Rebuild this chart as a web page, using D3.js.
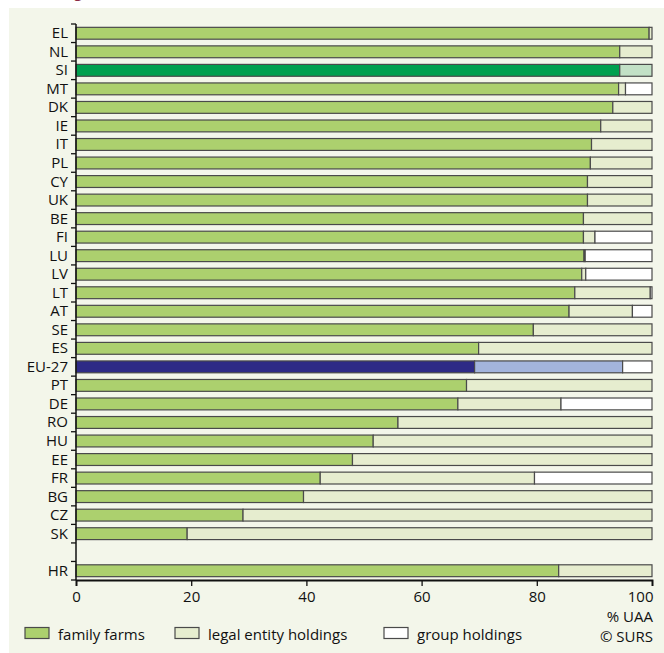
<!DOCTYPE html>
<html>
<head>
<meta charset="utf-8">
<script src="https://cdn.jsdelivr.net/npm/d3@7/dist/d3.min.js"></script>
<style>
  html, body { margin: 0; padding: 0; background: #ffffff; }
  svg { display: block; }
  text { font-family: "Open Sans", "Noto Sans", sans-serif; }
</style>
</head>
<body>
<svg id="chart" width="664" height="653"></svg>
<script>
// ---- data ----
const countries = ["EL","NL","SI","MT","DK","IE","IT","PL","CY","UK","BE","FI","LU","LV","LT","AT","SE","ES","EU-27","PT","DE","RO","HU","EE","FR","BG","CZ","SK","","HR"];
const familyFarms = [99.5,94.4,94.4,94.2,93.2,91.1,89.5,89.3,88.8,88.8,88.1,88.1,88.2,87.8,86.6,85.6,79.4,69.9,69.2,67.8,66.3,55.9,51.6,48.0,42.4,39.5,29.0,19.3,null,83.8];
const legalEntity = [0.5,5.6,5.6,1.2,6.8,8.9,10.5,10.7,11.2,11.2,11.9,2.0,0.2,0.7,13.1,11.0,20.6,30.1,25.7,32.2,17.9,44.1,48.4,52.0,37.2,60.5,71.0,80.7,null,16.2];
const groupHoldings = [0,0,0,4.6,0,0,0,0,0,0,0,9.9,11.6,11.5,0.3,3.4,0,0,5.1,0,15.8,0,0,0,20.4,0,0,0,null,0];
const xTicks = [0,20,40,60,80,100];
const seriesNames = ["family farms","legal entity holdings","group holdings"];

const colors = {
  default: ["#acd06e","#e6edcf","#ffffff"],
  "SI": ["#00a04f","#c2e1c6","#ffffff"],
  "EU-27": ["#2e2a86","#a3b4dc","#ffffff"]
};

const FS = 15;
const svg = d3.select("#chart");
// background panel
svg.append("rect").attr("x",9).attr("y",8).attr("width",655).attr("height",645).attr("fill","#f3f6ea");
// cut-off title glyph at top
svg.append("text").attr("x",74).attr("y",-3).attr("font-size",15).attr("fill","#8c2a45").text("g");

const margin = {left: 76, right: 12, top: 24, bottom: 73};
const W = 664, H = 653;
const x = d3.scaleLinear().domain([0,100]).range([margin.left, W - margin.right]);
const y = d3.scaleBand().domain(d3.range(countries.length)).range([margin.top, H - margin.bottom]).paddingInner(0.36).paddingOuter(0.18);

const g = svg.append("g");
countries.forEach((c, i) => {
  if (familyFarms[i] === null) return;
  const col = colors[c] || colors.default;
  const vals = [familyFarms[i], legalEntity[i], groupHoldings[i]];
  let acc = 0;
  vals.forEach((v, k) => {
    if (v <= 0) return;
    g.append("rect")
      .attr("x", x(acc))
      .attr("y", y(i))
      .attr("width", x(acc + v) - x(acc))
      .attr("height", y.bandwidth())
      .attr("fill", col[k])
      .attr("stroke", "#4a4a4a")
      .attr("stroke-width", 1.2);
    acc += v;
  });
});

// y axis
const step = y.step();
svg.append("line").attr("x1",margin.left).attr("x2",margin.left)
  .attr("y1",margin.top).attr("y2",H - margin.bottom).attr("stroke","#111").attr("stroke-width",1.5);
for (let i = 0; i <= countries.length; i++) {
  const yy = margin.top + i * step;
  svg.append("line").attr("x1",margin.left-5).attr("x2",margin.left).attr("y1",yy).attr("y2",yy)
    .attr("stroke","#111").attr("stroke-width",1.3);
}
countries.forEach((c, i) => {
  if (!c) return;
  svg.append("text").attr("x", margin.left - 8).attr("y", y(i) + y.bandwidth()/2 + 5)
    .attr("text-anchor","end")
    .attr("font-size",FS).attr("fill","#111").text(c);
});

// x axis
const xAxis = svg.append("g").attr("transform",`translate(0,${H - margin.bottom})`)
  .call(d3.axisBottom(x).tickValues(xTicks).tickSize(6).tickPadding(5).tickFormat(d3.format("d")));
xAxis.select(".domain").attr("stroke","#111").attr("stroke-width",1.8);
xAxis.selectAll(".tick line").attr("stroke","#111").attr("stroke-width",1.3);
xAxis.selectAll("text").attr("font-size",FS).attr("fill","#111")
  .style("font-family","'Open Sans', 'Noto Sans', sans-serif");
xAxis.selectAll(".tick").filter(d => d === 100).select("text").attr("text-anchor","end").attr("dx", 1);

svg.append("text").attr("x",W - margin.right + 1).attr("y",622).attr("text-anchor","end")
  .attr("font-size",FS).attr("fill","#111").text("% UAA");
svg.append("text").attr("x",W - margin.right + 1).attr("y",642).attr("text-anchor","end")
  .attr("font-size",FS).attr("fill","#111").text("© SURS");

// legend
const legendX = [25, 175, 384];
seriesNames.forEach((n, k) => {
  svg.append("rect").attr("x",legendX[k]).attr("y",627.5).attr("width",24).attr("height",11)
    .attr("fill",colors.default[k]).attr("stroke","#4a4a4a").attr("stroke-width",1.2);
  svg.append("text").attr("x",legendX[k] + 33).attr("y",640)
    .attr("font-size",FS).attr("fill","#111").text(n);
});
</script>
</body>
</html>
